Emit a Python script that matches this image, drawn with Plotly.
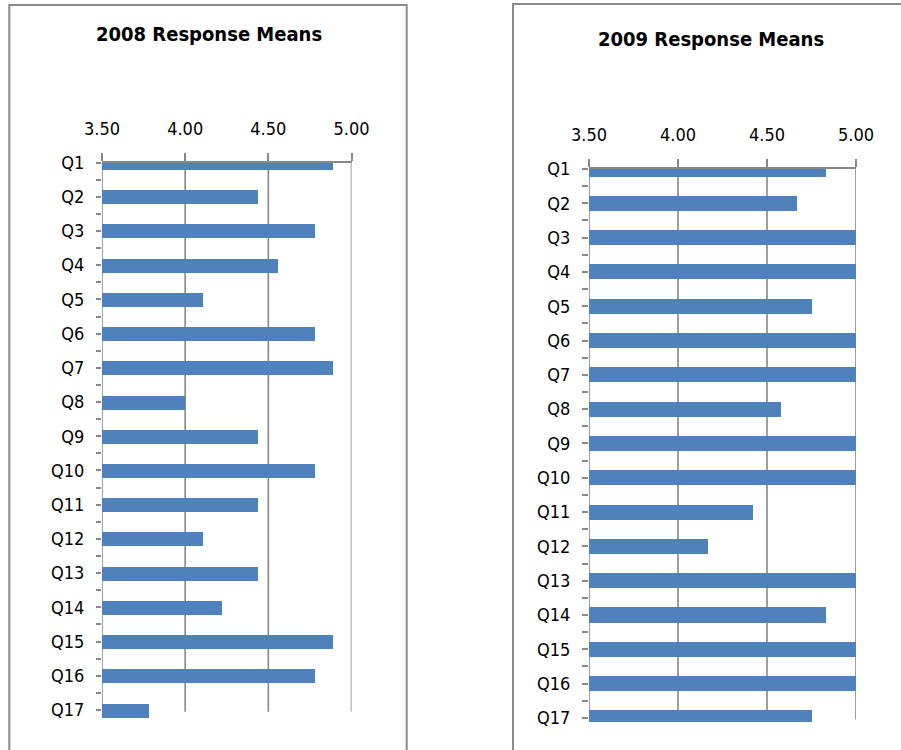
import plotly.graph_objects as go

# Survey questions and mean responses per year
questions = ["Q1", "Q2", "Q3", "Q4", "Q5", "Q6", "Q7", "Q8", "Q9", "Q10",
             "Q11", "Q12", "Q13", "Q14", "Q15", "Q16", "Q17"]
means_2008 = [4.89, 4.44, 4.78, 4.56, 4.11, 4.78, 4.89, 4.00, 4.44, 4.78,
              4.44, 4.11, 4.44, 4.22, 4.89, 4.78, 3.78]
means_2009 = [4.83, 4.67, 5.00, 5.00, 4.75, 5.00, 5.00, 4.58, 5.00, 5.00,
              4.42, 4.17, 5.00, 4.83, 5.00, 5.00, 4.75]
scale_ticks = [3.50, 4.00, 4.50, 5.00]
scale_labels = ["3.50", "4.00", "4.50", "5.00"]
titles = ["2008 Response Means", "2009 Response Means"]

W, H = 901, 750
FONT = "DejaVu Sans Condensed, Liberation Sans Narrow, Roboto, sans-serif"
BAR = "#4F81BD"
GRID = "#888888"

positions = list(range(len(questions)))
# category ticks every half step, labels only on whole steps
cat_tickvals = [i / 2 for i in range(2 * len(questions) - 1)]
cat_ticktext = [questions[i // 2] if i % 2 == 0 else "" for i in range(2 * len(questions) - 1)]


def px_x(p):
    return p / W


def px_y(p):
    return 1 - p / H


panels = [
    dict(data=means_2008, ax="", xd=(102, 351.5), yd=(162.5, 718.6), ybot=16.25,
         bw=0.41, frame=(9.3, 5, 406.7), tpos=(209, 34), ticklen=5),
    dict(data=means_2009, ax="2", xd=(589, 856), yd=(169, 722), ybot=16.12,
         bw=0.44, frame=(513, 4, 920), tpos=(711, 39), ticklen=6),
]

fig = go.Figure()
shapes = []
annotations = []
layout_axes = {}

for k, p in enumerate(panels):
    ax = p["ax"]
    fig.add_trace(go.Bar(
        x=p["data"], y=positions, orientation="h", width=p["bw"],
        marker=dict(color=BAR, line=dict(width=0)),
        xaxis="x" + ax, yaxis="y" + ax, showlegend=False,
        hovertext=questions, name=titles[k],
    ))
    layout_axes["xaxis" + ax] = dict(
        domain=[px_x(p["xd"][0]), px_x(p["xd"][1])],
        range=[scale_ticks[0], scale_ticks[-1]],
        side="top", anchor="y" + ax, automargin=False,
        tickvals=scale_ticks, ticktext=scale_labels,
        showgrid=False, zeroline=False,
        showline=True, linecolor=GRID, linewidth=1.6,
        ticks="outside", ticklen=8, tickwidth=1.6, tickcolor=GRID,
        ticklabelstandoff=11,
        tickfont=dict(family=FONT, size=18, color="#000000"),
    )
    layout_axes["yaxis" + ax] = dict(
        domain=[px_y(p["yd"][1]), px_y(p["yd"][0])],
        range=[p["ybot"], 0],
        anchor="x" + ax, automargin=False,
        tickvals=cat_tickvals, ticktext=cat_ticktext,
        showgrid=False, zeroline=False, showline=False,
        ticks="outside", ticklen=p["ticklen"], tickwidth=1.6, tickcolor=GRID,
        ticklabelstandoff=8,
        tickfont=dict(family=FONT, size=18, color="#000000"),
    )
    # vertical gridlines (and the value-axis base line) down to the last category
    for t in scale_ticks:
        shapes.append(dict(
            type="line", xref="x" + ax, yref="y" + ax,
            x0=t, x1=t, y0=0, y1=positions[-1] + 0.05,
            line=dict(color=GRID, width=1.6), layer="below",
        ))
    # chart frame
    fx0, fy0, fx1 = p["frame"]
    shapes.append(dict(
        type="rect", xref="paper", yref="paper",
        x0=px_x(fx0), x1=px_x(fx1), y0=px_y(fy0), y1=-0.05,
        line=dict(color="#8A8A8A", width=2), fillcolor="rgba(0,0,0,0)",
    ))
    annotations.append(dict(
        text=titles[k], xref="paper", yref="paper",
        x=px_x(p["tpos"][0]), y=px_y(p["tpos"][1]),
        xanchor="center", yanchor="middle", showarrow=False,
        font=dict(family=FONT, size=20, color="#000000", weight="bold"),
    ))

fig.update_layout(
    width=W, height=H,
    margin=dict(l=0, r=0, t=0, b=0, pad=0, autoexpand=False),
    paper_bgcolor="white", plot_bgcolor="white",
    shapes=shapes, annotations=annotations,
    bargap=0,
    **layout_axes,
)

fig.write_html("out.html")
